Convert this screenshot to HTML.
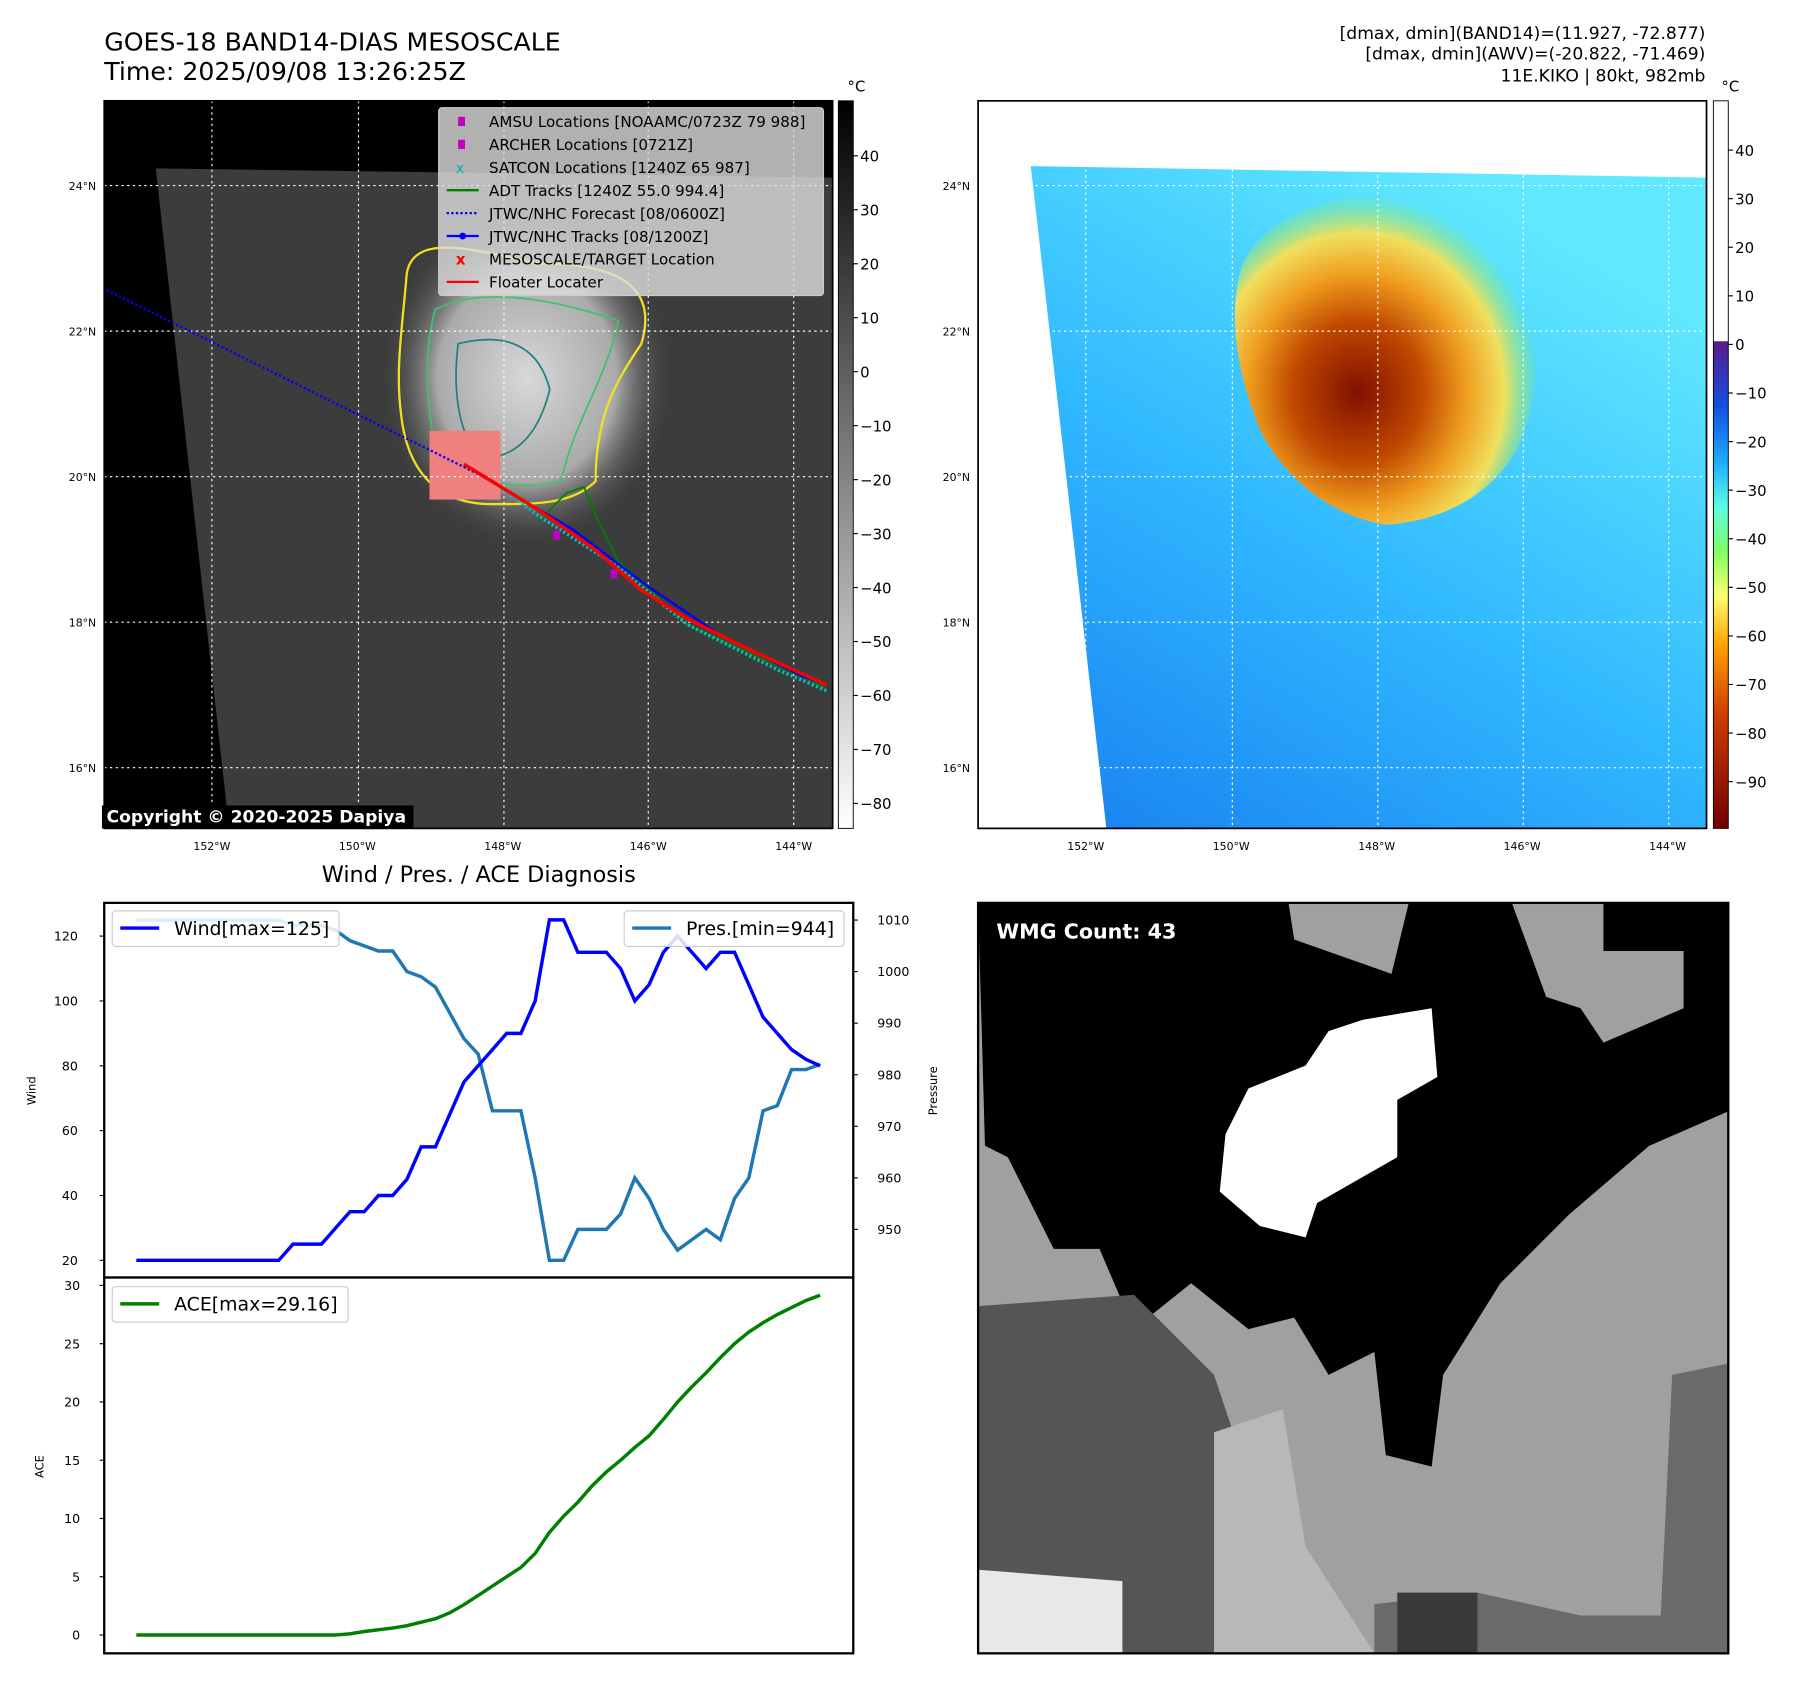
<!DOCTYPE html>
<html><head><meta charset="utf-8"><style>
html,body{margin:0;padding:0;background:#fff}
svg{display:block;font-family:"DejaVu Sans","Liberation Sans",sans-serif}
</style></head><body>
<svg id="fig" width="1797" height="1690" viewBox="0 0 1569 1475" preserveAspectRatio="none" xmlns="http://www.w3.org/2000/svg">
<defs>
<linearGradient id="cb1" x1="0" y1="0" x2="0" y2="1"><stop offset="0" stop-color="#000"/><stop offset="1" stop-color="#fff"/></linearGradient>
<linearGradient id="cb2" x1="0" y1="0" x2="0" y2="1">
<stop offset="0" stop-color="#fff"/><stop offset="0.33" stop-color="#fff"/><stop offset="0.331" stop-color="#5a1a8a"/><stop offset="0.42" stop-color="#1050e0"/><stop offset="0.5" stop-color="#20b0ff"/><stop offset="0.56" stop-color="#60ffe0"/><stop offset="0.62" stop-color="#80ff60"/><stop offset="0.68" stop-color="#ffff70"/><stop offset="0.75" stop-color="#ffa000"/><stop offset="0.84" stop-color="#d04000"/><stop offset="1" stop-color="#700000"/></linearGradient>
<linearGradient id="blue" x1="0" y1="1" x2="0.6" y2="0"><stop offset="0" stop-color="#1880f0"/><stop offset="0.5" stop-color="#30b8ff"/><stop offset="1" stop-color="#60e8ff"/></linearGradient>
<radialGradient id="storm" cx="0.4" cy="0.6" r="0.6"><stop offset="0" stop-color="#801000"/><stop offset="0.35" stop-color="#c04800"/><stop offset="0.6" stop-color="#f0a020"/><stop offset="0.8" stop-color="#f0e060"/><stop offset="1" stop-color="#80f060" stop-opacity="0"/></radialGradient>
<radialGradient id="cloud" cx="0.5" cy="0.5" r="0.5"><stop offset="0" stop-color="#d8d8d8"/><stop offset="0.6" stop-color="#aaa"/><stop offset="1" stop-color="#3a3a3a" stop-opacity="0"/></radialGradient>
</defs>

<text x="91" y="44" font-size="22">GOES-18 BAND14-DIAS MESOSCALE</text>
<text x="91" y="70" font-size="22">Time: 2025/09/08 13:26:25Z</text>
<g font-size="15" text-anchor="end">
<text x="1489" y="34">[dmax, dmin](BAND14)=(11.927, -72.877)</text>
<text x="1489" y="52">[dmax, dmin](AWV)=(-20.822, -71.469)</text>
<text x="1489" y="71">11E.KIKO | 80kt, 982mb</text>
</g>

<g>
<rect x="91" y="88" width="636" height="635" fill="#000"/>
<polygon points="136,147 727,155 727,723 200,723" fill="#3c3c3c"/>
<ellipse cx="460" cy="330" rx="130" ry="150" fill="url(#cloud)"/>
<path d="M355,240 C360,200 420,220 470,230 C540,230 575,250 560,300 C540,330 520,360 520,420 C500,440 470,440 430,440 C380,440 355,410 350,360 C345,320 352,280 355,240Z" fill="none" stroke="#f0e020" stroke-width="2"/>
<path d="M380,270 C420,250 480,260 540,280 C530,330 500,370 490,420 C450,430 400,420 380,390 C370,340 372,300 380,270Z" fill="none" stroke="#40c070" stroke-width="1.5"/>
<path d="M400,300 C440,290 470,300 480,340 C470,380 450,400 420,400 C400,380 395,340 400,300Z" fill="none" stroke="#208080" stroke-width="1.5"/>
<rect x="375" y="376" width="62" height="60" fill="#f08080"/>
<g stroke="#fff" stroke-dasharray="2,3" stroke-width="1">
<line x1="91" y1="162" x2="727" y2="162"/><line x1="91" y1="289" x2="727" y2="289"/><line x1="91" y1="416" x2="727" y2="416"/><line x1="91" y1="543" x2="727" y2="543"/><line x1="91" y1="670" x2="727" y2="670"/>
<line x1="185" y1="88" x2="185" y2="723"/><line x1="313" y1="88" x2="313" y2="723"/><line x1="440" y1="88" x2="440" y2="723"/><line x1="566" y1="88" x2="566" y2="723"/><line x1="693" y1="88" x2="693" y2="723"/>
</g>
<line x1="93" y1="253" x2="420" y2="415" stroke="#00f" stroke-width="2" stroke-dasharray="2,2"/>
<polyline points="470,455 495,430 510,425 520,450 540,490 600,545 720,600" fill="none" stroke="#008000" stroke-width="1.5"/>
<polyline points="430,420 470,450 540,495 600,545 680,585 722,603" fill="none" stroke="#00c0c0" stroke-width="3" stroke-dasharray="2,2"/>
<polyline points="420,415 500,462 566,512 630,555 700,590 722,598" fill="none" stroke="#00f" stroke-width="2"/>
<polyline points="405,405 470,445 520,480 560,515 600,540 650,565 722,598" fill="none" stroke="#f00" stroke-width="3"/>
<rect x="483" y="463" width="6" height="8" fill="#c000c0"/><rect x="533" y="497" width="6" height="8" fill="#c000c0"/>
<rect x="383" y="94" width="336" height="164" fill="#ddd" fill-opacity="0.8" stroke="#ccc" rx="3"/>
<g font-size="13.2">
<rect x="400" y="102" width="6" height="8" fill="#c000c0"/><text x="427" y="111">AMSU Locations [NOAAMC/0723Z 79 988]</text>
<rect x="400" y="122" width="6" height="8" fill="#c000c0"/><text x="427" y="131">ARCHER Locations [0721Z]</text>
<text x="398" y="151" fill="#00b0b0" font-size="12">x</text><text x="427" y="151">SATCON Locations [1240Z 65 987]</text>
<line x1="390" y1="166" x2="418" y2="166" stroke="#008000" stroke-width="2"/><text x="427" y="171">ADT Tracks [1240Z 55.0 994.4]</text>
<line x1="390" y1="186" x2="418" y2="186" stroke="#00f" stroke-width="2" stroke-dasharray="2,2"/><text x="427" y="191">JTWC/NHC Forecast [08/0600Z]</text>
<line x1="390" y1="206" x2="418" y2="206" stroke="#00f" stroke-width="2"/><circle cx="404" cy="206" r="3" fill="#00f"/><text x="427" y="211">JTWC/NHC Tracks [08/1200Z]</text>
<text x="398" y="231" fill="#f00" font-size="13" font-weight="bold">x</text><text x="427" y="231">MESOSCALE/TARGET Location</text>
<line x1="390" y1="246" x2="418" y2="246" stroke="#f00" stroke-width="2"/><text x="427" y="251">Floater Locater</text>
</g>
<rect x="89" y="703" width="272" height="20" fill="#000"/>
<text x="93" y="718" fill="#fff" font-size="15" font-weight="bold">Copyright © 2020-2025 Dapiya</text>
<rect x="91" y="88" width="636" height="635" fill="none" stroke="#000" stroke-width="1.5"/>
</g>
<rect x="732" y="88" width="13" height="635" fill="url(#cb1)" stroke="#000" stroke-width="0.8"/>
<text x="740" y="80" font-size="13">°C</text>
<g id="cb1ticks" font-size="13"></g>

<g>
<rect x="854" y="88" width="636" height="635" fill="#fff"/>
<polygon points="900,145 1490,155 1490,723 966,723" fill="url(#blue)"/>
<path d="M1085,230 C1120,160 1250,150 1320,200 C1360,250 1345,330 1330,380 C1310,430 1260,455 1210,458 C1160,450 1120,415 1100,375 C1078,320 1072,270 1085,230Z" fill="url(#storm)"/>
<g stroke="#fff" stroke-dasharray="2,3" stroke-width="1">
<line x1="854" y1="162" x2="1490" y2="162"/><line x1="854" y1="289" x2="1490" y2="289"/><line x1="854" y1="416" x2="1490" y2="416"/><line x1="854" y1="543" x2="1490" y2="543"/><line x1="854" y1="670" x2="1490" y2="670"/>
<line x1="948" y1="88" x2="948" y2="723"/><line x1="1076" y1="88" x2="1076" y2="723"/><line x1="1203" y1="88" x2="1203" y2="723"/><line x1="1330" y1="88" x2="1330" y2="723"/><line x1="1457" y1="88" x2="1457" y2="723"/>
</g>
<rect x="854" y="88" width="636" height="635" fill="none" stroke="#000" stroke-width="1.5"/>
</g>
<rect x="1496" y="88" width="13" height="635" fill="url(#cb2)" stroke="#000" stroke-width="0.8"/>
<text x="1503" y="80" font-size="13">°C</text>
<g id="cb2ticks" font-size="13"></g>
<g id="maplabels" font-size="9.5"></g>

<g>
<rect x="854" y="788" width="655" height="655" fill="#a0a0a0"/>
<polygon points="854,788 1509,788 1509,970 1440,1000 1370,1060 1310,1120 1260,1200 1250,1280 1210,1270 1200,1180 1160,1200 1130,1150 1090,1160 1040,1120 990,1160 960,1090 920,1090 880,1010 860,1000" fill="#000"/>
<polygon points="1125,788 1230,788 1215,850 1130,820" fill="#a0a0a0"/>
<polygon points="1320,788 1400,788 1400,830 1470,830 1470,880 1400,910 1380,880 1350,870" fill="#a0a0a0"/>
<polygon points="1190,890 1250,880 1255,940 1220,960 1220,1010 1150,1050 1140,1080 1100,1070 1065,1040 1070,990 1090,950 1140,930 1160,900" fill="#fff"/>
<polygon points="854,1140 990,1130 1060,1200 1080,1260 1120,1360 1180,1443 854,1443" fill="#555"/>
<polygon points="1060,1250 1120,1230 1140,1350 1200,1443 1060,1443" fill="#b8b8b8"/>
<polygon points="854,1370 980,1380 980,1443 854,1443" fill="#e8e8e8"/>
<polygon points="1460,1200 1509,1190 1509,1443 1200,1443 1200,1400 1290,1390 1380,1410 1450,1410" fill="#6a6a6a"/>
<polygon points="1220,1390 1290,1390 1290,1443 1220,1443" fill="#3a3a3a"/>
<text x="870" y="819" fill="#fff" font-size="18" font-weight="bold">WMG Count: 43</text>
<rect x="854" y="788" width="655" height="655" fill="none" stroke="#000" stroke-width="2"/>
</g>

<text x="418" y="770" font-size="19.5" text-anchor="middle">Wind / Pres. / ACE Diagnosis</text>
<rect x="91" y="788" width="654" height="327" fill="#fff" stroke="#000" stroke-width="2"/>
<rect x="91" y="1115" width="654" height="328" fill="#fff" stroke="#000" stroke-width="2"/>
<g id="charts"></g>
<text transform="translate(31,952) rotate(-90)" font-size="10" text-anchor="middle">Wind</text>
<text transform="translate(818,952) rotate(-90)" font-size="10" text-anchor="middle">Pressure</text>
<text transform="translate(38,1280) rotate(-90)" font-size="10" text-anchor="middle">ACE</text>
</svg>
<script>
const windValues=[20,20,20,20,20,20,20,20,20,20,20,25,25,25,30,35,35,40,40,45,55,55,65,75,80,85,90,90,100,125,125,115,115,115,110,100,105,115,120,115,110,115,115,105,95,90,85,82,80];
const presValues=[1010,1010,1010,1010,1010,1010,1010,1010,1010,1010,1010,1009,1009,1009,1008,1006,1005,1004,1004,1000,999,997,992,987,984,973,973,973,960,944,944,950,950,950,953,960,956,950,946,948,950,948,956,960,973,974,981,981,982];
const aceValues=[0,0,0,0,0,0,0,0,0,0,0,0,0,0,0,0.1,0.3,0.45,0.6,0.8,1.1,1.4,1.9,2.6,3.4,4.2,5,5.8,7,8.8,10.2,11.4,12.8,14,15,16.1,17.1,18.5,20,21.3,22.5,23.8,25,26,26.8,27.5,28.1,28.7,29.16];
const windTicks=[20,40,60,80,100,120];
const presTicks=[950,960,970,980,990,1000,1010];
const aceTicks=[0,5,10,15,20,25,30];
const cb1Ticks=[40,30,20,10,0,-10,-20,-30,-40,-50,-60,-70,-80];
const cb2Ticks=[40,30,20,10,0,-10,-20,-30,-40,-50,-60,-70,-80,-90];
const latTicks=["24°N","22°N","20°N","18°N","16°N"];
const lonTicks=["152°W","150°W","148°W","146°W","144°W"];
const NS="http://www.w3.org/2000/svg";
const xS=i=>119+i*(716-119)/(windValues.length-1);
const yW=v=>1100-(v-20)*2.83;
const yP=p=>1073-(p-950)*4.5;
const yA=a=>1427-a*10.17;
function mk(tag,attrs,parent,txt){const e=document.createElementNS(NS,tag);for(const k in attrs)e.setAttribute(k,attrs[k]);if(txt!==undefined)e.textContent=txt;parent.appendChild(e);return e;}
const ch=document.getElementById('charts');
function line(vals,yf,color,name){const p=mk('polyline',{points:vals.map((v,i)=>xS(i)+','+yf(v)).join(' '),fill:'none',stroke:color,'stroke-width':3},ch);

}
line(presValues,yP,'#1f77b4','pressure-line');
line(windValues,yW,'#0000ff','wind-line');
line(aceValues,yA,'#008000','ace-line');
windTicks.forEach(v=>{const y=yW(v);mk('line',{x1:87,x2:91,y1:y,y2:y,stroke:'#000'},ch);const t=mk('text',{x:68,y:y+4,'font-size':11,'text-anchor':'end'},ch,v);

});
presTicks.forEach(v=>{const y=yP(v);mk('line',{x1:745,x2:749,y1:y,y2:y,stroke:'#000'},ch);const t=mk('text',{x:766,y:y+4,'font-size':11},ch,v);

});
aceTicks.forEach(v=>{const y=yA(v);mk('line',{x1:87,x2:91,y1:y,y2:y,stroke:'#000'},ch);const t=mk('text',{x:70,y:y+4,'font-size':11,'text-anchor':'end'},ch,v);

});
function legend(x,y,w,color,label,name){const g=mk('g',{},ch);


mk('rect',{x:x,y:y,width:w,height:31,fill:'#fff','fill-opacity':0.85,stroke:'#ccc',rx:3},g);mk('line',{x1:x+7,x2:x+41,y1:y+15,y2:y+15,stroke:color,'stroke-width':3},g);mk('text',{x:x+54,y:y+21,'font-size':16.5},g,label);}
legend(98,795,198,'#0000ff','Wind[max=125]','wind-legend');
legend(545,795,192,'#1f77b4','Pres.[min=944]','pressure-legend');
legend(98,1123,206,'#008000','ACE[max=29.16]','ace-legend');
const c1=document.getElementById('cb1ticks');
cb1Ticks.forEach(v=>{const y=136+(40-v)*4.71;mk('line',{x1:745,x2:749,y1:y,y2:y,stroke:'#000'},c1);mk('text',{x:751,y:y+5},c1,v<0?'\u2212'+(-v):v);});
const c2=document.getElementById('cb2ticks');
cb2Ticks.forEach(v=>{const y=131+(40-v)*4.24;mk('line',{x1:1509,x2:1513,y1:y,y2:y,stroke:'#000'},c2);mk('text',{x:1515,y:y+5},c2,v<0?'\u2212'+(-v):v);});
const ml=document.getElementById('maplabels');
latTicks.forEach((t,i)=>{const y=162+i*127;mk('text',{x:84,y:y+4,'text-anchor':'end'},ml,t);mk('text',{x:847,y:y+4,'text-anchor':'end'},ml,t);});
lonTicks.forEach((t,i)=>{mk('text',{x:185+i*127,y:742,'text-anchor':'middle'},ml,t);mk('text',{x:948+i*127,y:742,'text-anchor':'middle'},ml,t);});
</script>
</body></html>
